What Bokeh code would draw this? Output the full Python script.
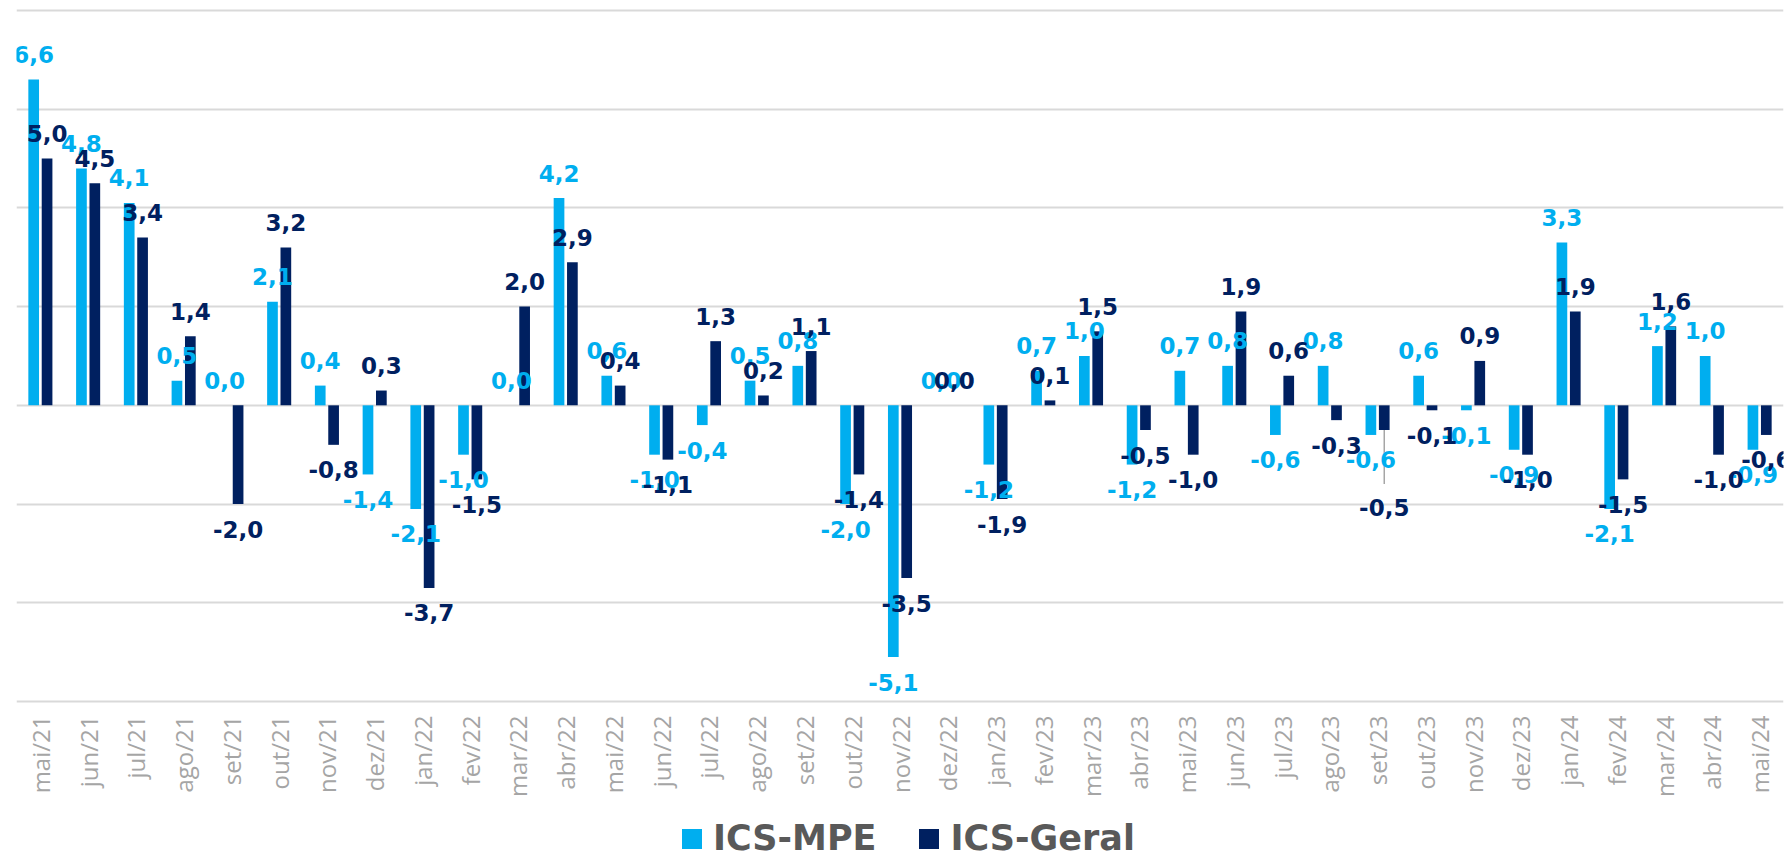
import math
from bokeh.plotting import figure
from bokeh.layouts import column
from bokeh.models import ColumnDataSource, FactorRange, Range1d, FixedTicker, Legend, LegendItem
from bokeh.transform import dodge
from bokeh.core.properties import value
from bokeh.embed import file_html
from bokeh.resources import INLINE

months = ["mai/21", "jun/21", "jul/21", "ago/21", "set/21", "out/21", "nov/21", "dez/21",
          "jan/22", "fev/22", "mar/22", "abr/22", "mai/22", "jun/22", "jul/22", "ago/22",
          "set/22", "out/22", "nov/22", "dez/22",
          "jan/23", "fev/23", "mar/23", "abr/23", "mai/23", "jun/23", "jul/23", "ago/23",
          "set/23", "out/23", "nov/23", "dez/23",
          "jan/24", "fev/24", "mar/24", "abr/24", "mai/24"]

ics_mpe = [6.6, 4.8, 4.1, 0.5, 0.0, 2.1, 0.4, -1.4,
           -2.1, -1.0, 0.0, 4.2, 0.6, -1.0, -0.4, 0.5, 0.8, -2.0, -5.1, 0.0,
           -1.2, 0.7, 1.0, -1.2, 0.7, 0.8, -0.6, 0.8, -0.6, 0.6, -0.1, -0.9,
           3.3, -2.1, 1.2, 1.0, -0.9]

ics_geral = [5.0, 4.5, 3.4, 1.4, -2.0, 3.2, -0.8, 0.3,
             -3.7, -1.5, 2.0, 2.9, 0.4, -1.1, 1.3, 0.2, 1.1, -1.4, -3.5, 0.0,
             -1.9, 0.1, 1.5, -0.5, -1.0, 1.9, 0.6, -0.3, -0.5, -0.1, 0.9, -1.0,
             1.9, -1.5, 1.6, -1.0, -0.6]

series_names = ["ICS-MPE", "ICS-Geral"]
grid_ticks = [-6, -4, -2, 0, 2, 4, 6, 8]

# styling
MPE_C = "#00AEEF"
GER_C = "#002060"
GRID_C = "#d9d9d9"
LABEL_FONT = "DejaVu Sans"
PPU = 49.36            # pixels per unit on the value axis
PAD_BOT = 4.0
Y_MIN = -6
FRAME_H = 699
MAIN_H = 6 + FRAME_H + 100
TOTAL_H = 859
LABEL_GAP = 25
BAR_W = 0.224
OFF = 0.14
# manually moved label (pixels further down) with a leader line
geral_label_shift = {"set/23": 52}


def fmt(v):
    return f"{v:.1f}".replace(".", ",")


def offs(vals):
    return [-LABEL_GAP if v >= 0 else LABEL_GAP for v in vals]


ger_off = offs(ics_geral)
for i, m in enumerate(months):
    if m in geral_label_shift:
        ger_off[i] += geral_label_shift[m]

src = ColumnDataSource(dict(
    cat=months, mpe=ics_mpe, geral=ics_geral,
    mpe_lbl=[fmt(v) for v in ics_mpe], geral_lbl=[fmt(v) for v in ics_geral],
    mpe_off=offs(ics_mpe), geral_off=ger_off,
))

y_lo = Y_MIN - PAD_BOT / PPU
y_hi = y_lo + FRAME_H / PPU

p = figure(x_range=FactorRange(*months), y_range=Range1d(y_lo, y_hi),
           frame_width=1767, frame_height=FRAME_H,
           output_backend="svg", toolbar_location=None, y_axis_location=None,
           min_border_left=16, min_border_right=7, min_border_top=6, min_border_bottom=100)
p.x_range.range_padding = 0
p.outline_line_color = None
p.background_fill_color = "white"

p.xgrid.visible = False
p.ygrid[0].ticker = FixedTicker(ticks=grid_ticks)
p.ygrid.grid_line_color = GRID_C
p.ygrid.grid_line_width = 2

r1 = p.vbar(x=dodge("cat", -OFF, range=p.x_range), top="mpe", width=BAR_W,
            source=src, fill_color=MPE_C, line_color=None)
r2 = p.vbar(x=dodge("cat", OFF, range=p.x_range), top="geral", width=BAR_W,
            source=src, fill_color=GER_C, line_color=None)

# leader lines for moved labels
lx, ly0, ly1 = [], [], []
for i, m in enumerate(months):
    if m in geral_label_shift:
        v = ics_geral[i]
        lx.append(m)
        ly0.append(v)
        ly1.append(v - (LABEL_GAP + geral_label_shift[m] - 23) / PPU)
lsrc = ColumnDataSource(dict(x=lx, y0=ly0, y1=ly1))
p.segment(x0=dodge("x", OFF, range=p.x_range), x1=dodge("x", OFF, range=p.x_range),
          y0="y0", y1="y1", source=lsrc, line_color="#a6a6a6", line_width=1.5)

p.text(x=dodge("cat", -OFF, range=p.x_range), y="mpe", text="mpe_lbl", y_offset="mpe_off",
       source=src, text_align="center", text_baseline="middle",
       text_font=value(LABEL_FONT), text_font_style="bold", text_font_size="23px",
       text_color=MPE_C)
p.text(x=dodge("cat", OFF, range=p.x_range), y="geral", text="geral_lbl", y_offset="geral_off",
       source=src, text_align="center", text_baseline="middle",
       text_font=value(LABEL_FONT), text_font_style="bold", text_font_size="23px",
       text_color=GER_C)

ax = p.xaxis[0]
ax.axis_line_color = None
ax.major_tick_line_color = None
ax.minor_tick_line_color = None
ax.major_tick_out = 0
ax.major_label_orientation = math.pi / 2
ax.major_label_standoff = 10
ax.major_label_text_font = "Open Sans"
ax.major_label_text_font_size = "24px"
ax.major_label_text_color = "#a5a5a5"

# legend strip below the chart (proxy renderers sit outside the visible range)
lp = figure(width=1790, height=TOTAL_H - MAIN_H, x_range=Range1d(0, 1), y_range=Range1d(0, 1),
            output_backend="svg", toolbar_location=None,
            x_axis_location=None, y_axis_location=None,
            min_border_left=0, min_border_right=0, min_border_top=0, min_border_bottom=0)
lp.outline_line_color = None
lp.xgrid.visible = False
lp.ygrid.visible = False
proxy = ColumnDataSource(dict(x=[-5.0], y=[-5.0]))
lr1 = lp.rect(x="x", y="y", width=0.1, height=0.1, source=proxy, fill_color=MPE_C, line_color=None)
lr2 = lp.rect(x="x", y="y", width=0.1, height=0.1, source=proxy, fill_color=GER_C, line_color=None)

legend = Legend(items=[LegendItem(label=series_names[0], renderers=[lr1]),
                       LegendItem(label=series_names[1], renderers=[lr2])],
                orientation="horizontal", location=(663, 1),
                glyph_width=25, glyph_height=25, label_standoff=9, spacing=40,
                label_text_font=LABEL_FONT, label_text_font_style="bold",
                label_text_font_size="35px", label_text_color="#595959",
                padding=0, margin=0, border_line_color=None, background_fill_alpha=0)
lp.add_layout(legend, "center")

open("out.html", "w").write(file_html(column(p, lp, spacing=0), INLINE))
